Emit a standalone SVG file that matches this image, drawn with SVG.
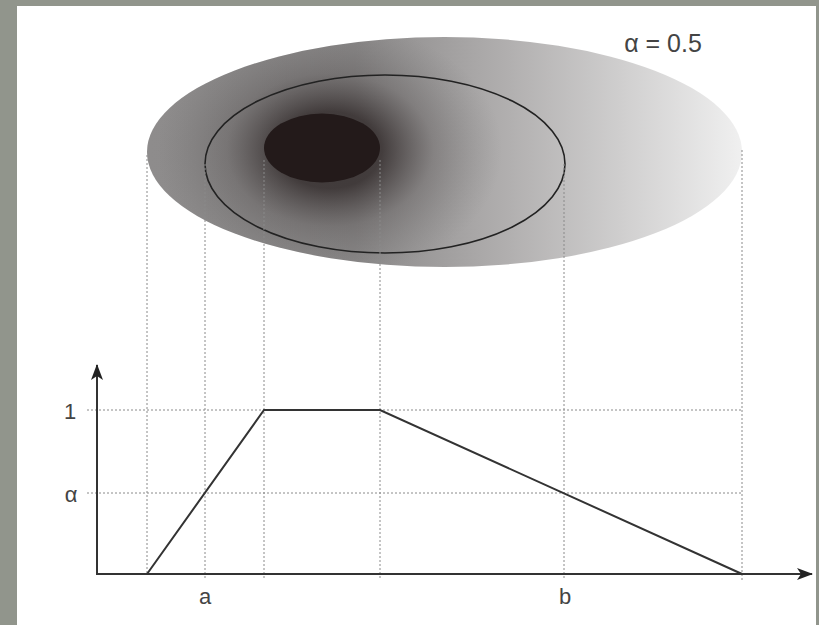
<svg xmlns="http://www.w3.org/2000/svg" width="819" height="625" viewBox="0 0 819 625">
<defs>
<linearGradient id="lin" x1="147" y1="0" x2="742" y2="0" gradientUnits="userSpaceOnUse">
<stop offset="0" stop-color="#8e8c8c"/>
<stop offset="0.35" stop-color="#8a8888"/>
<stop offset="0.6" stop-color="#b0aeae"/>
<stop offset="1" stop-color="#f0f0f0"/>
</linearGradient>
<radialGradient id="rad" cx="330" cy="150" r="150" gradientUnits="userSpaceOnUse" gradientTransform="translate(330 150) scale(1.15 0.85) translate(-330 -150)">
<stop offset="0.3" stop-color="#221a1a" stop-opacity="0.7"/>
<stop offset="0.6" stop-color="#3a3434" stop-opacity="0.25"/>
<stop offset="1" stop-color="#555" stop-opacity="0"/>
</radialGradient>
<clipPath id="oc"><ellipse cx="444.5" cy="152" rx="297.5" ry="115"/></clipPath>
<marker id="arr" viewBox="0 0 16 12" refX="15" refY="6" markerWidth="16" markerHeight="12" markerUnits="userSpaceOnUse" orient="auto">
<path d="M0,0 L16,6 L0,12 L4,6 Z" fill="#222"/>
</marker>
</defs>
<style>
.grid{stroke:#8a8a8a;stroke-width:1;stroke-dasharray:2,2;fill:none}
.axis{stroke:#333;stroke-width:2;fill:none}
.curve{stroke:#333;stroke-width:2;fill:none}
.lbl{font-family:"Liberation Sans",Arial,sans-serif;font-size:22px;fill:#444}
.big{font-size:25px}
</style>
<rect x="0" y="0" width="819" height="625" fill="#91958c"/>
<rect x="17" y="6" width="799" height="619" fill="#ffffff"/>
<g id="fuzzy-set">
<ellipse cx="444.5" cy="152" rx="297.5" ry="115" fill="url(#lin)"/>
<g clip-path="url(#oc)"><rect x="140" y="30" width="610" height="245" fill="url(#rad)"/></g>
</g>
<g id="alpha-cut">
<ellipse cx="385" cy="164" rx="180" ry="89" fill="none" stroke="#222" stroke-width="1.6"/>
</g>
<g id="core">
<ellipse cx="322" cy="148" rx="58" ry="34.5" fill="#231a1a"/>
</g>
<g id="connectors">
<line class="grid" x1="147" y1="155" x2="147" y2="574"/>
<line class="grid" x1="205" y1="164" x2="205" y2="580"/>
<line class="grid" x1="264" y1="160" x2="264" y2="580"/>
<line class="grid" x1="380" y1="160" x2="380" y2="580"/>
<line class="grid" x1="564" y1="164" x2="564" y2="580"/>
<line class="grid" x1="742" y1="150" x2="742" y2="580"/>
<line class="grid" x1="87" y1="410" x2="742" y2="410"/>
<line class="grid" x1="87" y1="493" x2="742" y2="493"/>
<line class="axis" x1="97" y1="574" x2="97" y2="365" marker-end="url(#arr)"/>
<line class="axis" x1="96" y1="574" x2="812" y2="574" marker-end="url(#arr)"/>
<polyline class="curve" points="147,574 264,410 380,410 742,574"/>
</g>
<g id="labels">
<text class="lbl" x="70" y="419" text-anchor="middle">1</text>
<text class="lbl" x="71" y="502" text-anchor="middle">α</text>
<text class="lbl" x="205" y="604" text-anchor="middle">a</text>
<text class="lbl" x="565" y="604" text-anchor="middle">b</text>
<text class="lbl big" x="663" y="52" text-anchor="middle">α = 0.5</text>
</g>
</svg>
